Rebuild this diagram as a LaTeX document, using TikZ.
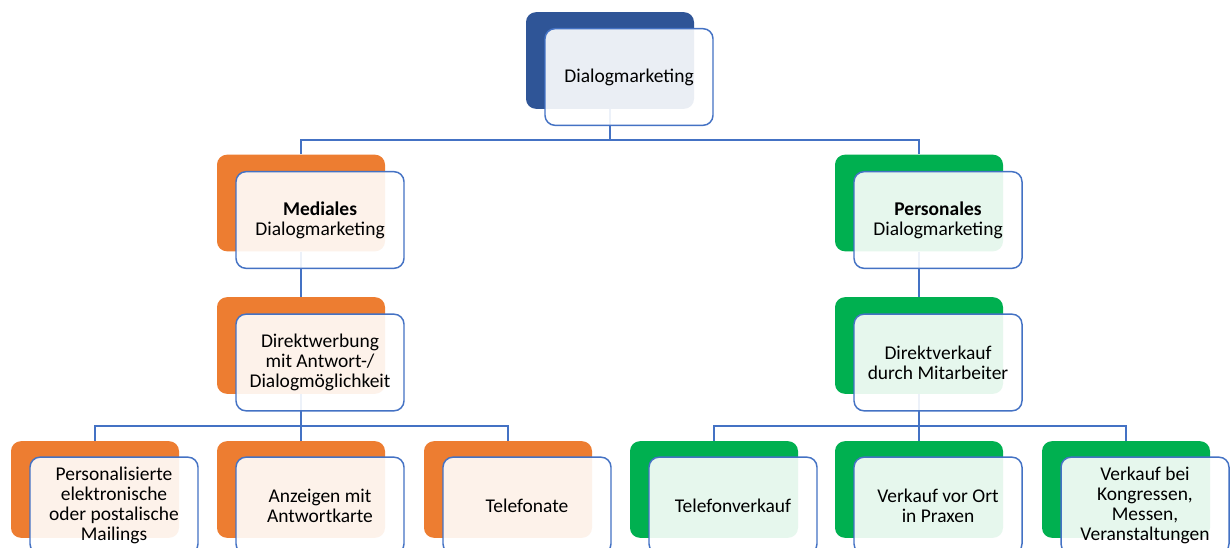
\documentclass[tikz,border=0pt]{standalone}
\usepackage{fontspec}
\setmainfont{Carlito}
\usetikzlibrary{backgrounds}
\definecolor{topblue}{HTML}{2F5597}
\definecolor{medorange}{HTML}{ED7D31}
\definecolor{pergreen}{HTML}{00B050}
\definecolor{frameblue}{HTML}{4472C4}

\begin{document}
\begin{tikzpicture}[x=0.75pt,y=-0.75pt,
  back/.style={rounded corners=7.5pt,minimum width=126pt,minimum height=72.5pt,inner sep=0pt},
  front/.style={draw=frameblue,line width=1.1pt,fill=white,fill opacity=0.9,text opacity=1,
    rounded corners=7.5pt,minimum width=126pt,minimum height=72.5pt,inner sep=0pt,
    align=center,font=\fontsize{14.6}{15}\selectfont},
  link/.style={draw=frameblue,line width=1.1pt}]

\useasboundingbox (0,0) rectangle (1230,548);
\clip (0,0) rectangle (1230,548);

\node[back,fill=topblue] (dmb) at (610,60.5) {};
\node[front] (dm) at (629,77) {Dialogmarketing};

\node[back,fill=medorange] (medb) at (301,203) {};
\node[front] (med) at (320,220) {\textbf{Mediales}\\Dialogmarketing};
\node[back,fill=pergreen] (perb) at (919,203) {};
\node[front] (per) at (938,220) {\textbf{Personales}\\Dialogmarketing};

\node[back,fill=medorange] (dwb) at (301,345.5) {};
\node[front] (dw) at (320,362.5) {Direktwerbung\\mit Antwort-/\\Dialogmöglichkeit};
\node[back,fill=pergreen] (dvb) at (919,345.5) {};
\node[front] (dv) at (938,362.5) {Direktverkauf\\durch Mitarbeiter};

\node[back,fill=medorange] (mailb) at (95,489.5) {};
\node[front] (mail) at (114,505.5) {Personalisierte\\elektronische\\oder postalische\\Mailings};
\node[back,fill=medorange] (anzb) at (301,489.5) {};
\node[front] (anz) at (320,505.5) {Anzeigen mit\\Antwortkarte};
\node[back,fill=medorange] (telb) at (508,489.5) {};
\node[front] (tel) at (527,505.5) {Telefonate};

\node[back,fill=pergreen] (tvb) at (714,489.5) {};
\node[front] (tv) at (733,505.5) {Telefonverkauf};
\node[back,fill=pergreen] (ortb) at (919,489.5) {};
\node[front] (ort) at (938,505.5) {Verkauf vor Ort\\in Praxen};
\node[back,fill=pergreen] (konb) at (1126,489.5) {};
\node[front] (kon) at (1145,505.5) {Verkauf bei\\Kongressen,\\Messen,\\Veranstaltungen};

% connectors under the boxes
\begin{pgfonlayer}{background}
\draw[link] (dmb.south) -- ++(0,31) -| (medb.north);
\draw[link] (dmb.south) -- ++(0,31) -| (perb.north);
\draw[link] (medb.south) -- (dwb.north);
\draw[link] (perb.south) -- (dvb.north);
\foreach \n in {mailb,anzb,telb}
  \draw[link] (dwb.south) -- ++(0,32) -| (\n.north);
\foreach \n in {tvb,ortb,konb}
  \draw[link] (dvb.south) -- ++(0,32) -| (\n.north);
\end{pgfonlayer}

\end{tikzpicture}
\end{document}
